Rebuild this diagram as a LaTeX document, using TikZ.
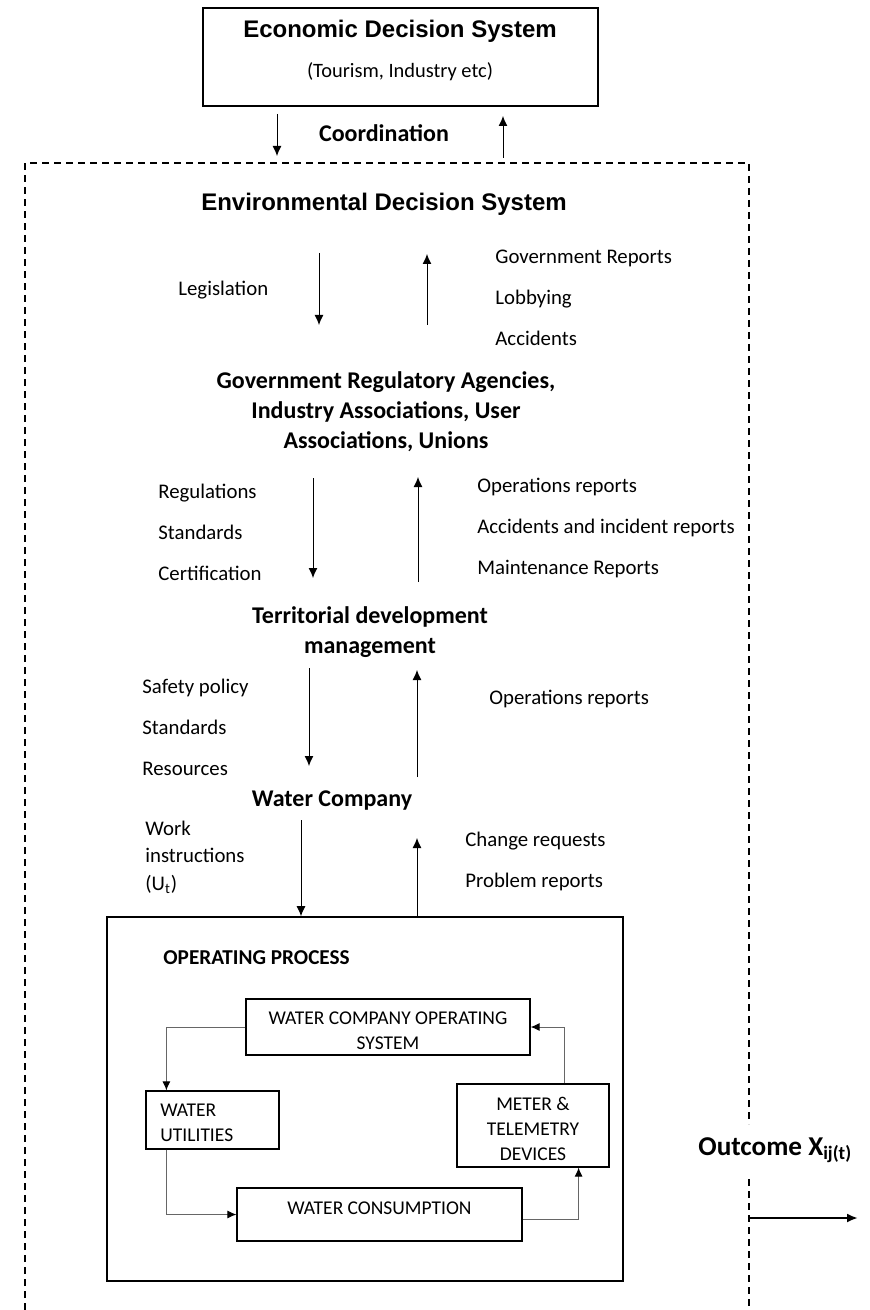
\documentclass[tikz,border=0pt]{standalone}
\usepackage{fontspec}
\setmainfont{Carlito}
\newfontfamily\arialfont{Liberation Sans}
\usepackage{tikz}
\usetikzlibrary{
	arrows.meta,
	positioning,
	calc
}
\tikzset{
  % arrow
	cstra/.style      ={-{Latex[length=5pt,width=4.5pt]}, line width=0.5pt},
	cstfra/.style     ={-{Latex[length=4.5pt,width=4pt,color=black]}, draw=black!60, line width=0.5pt},
	cstora/.style     ={-{Latex[length=5.5pt,width=4.5pt]}, line width=1.1pt},
  % line
	cstdash/.style    ={line width=0.6pt, dash pattern=on 3.5pt off 2.5pt},
  % node
	cstbox/.style     ={draw=black, line width=0.8pt, inner sep=0pt},
	cstinbox/.style   ={draw=black, line width=0.6pt, inner sep=0pt, font=\fontsize{9.75}{12.5}\selectfont, align=center},
	cstintext/.style  ={font=\fontsize{9.75}{12.5}\selectfont, align=center},
	csthead/.style    ={font=\arialfont\bfseries\fontsize{12}{14}\selectfont},
	cstlevel/.style   ={font=\bfseries\fontsize{12}{15}\selectfont, align=center},
	csttext/.style    ={font=\fontsize{10.2}{12}\selectfont, inner sep=0pt},
	cstlist/.style    ={font=\fontsize{10.4}{20.5}\selectfont, align=left, anchor=west, inner sep=0pt}
}

\begin{document}
\begin{tikzpicture}[x=0.5pt,y=-0.5pt]
	\useasboundingbox (0,0) rectangle (869,1310);
	% economic decision system
	\node[cstbox,minimum width=197.5pt,minimum height=49pt] (eco) at (400.5,57) {};
	\node[csthead] (ecot) at (400,31) {Economic Decision System};
	\node[csttext] (ecos) at (400,72) {(Tourism, Industry etc)};
	\node[cstlevel] (coord) at (384,133) {Coordination};
	\coordinate (cod0) at (277,114); \coordinate (cod1) at (277,156);
	\coordinate (cou0) at (503,158); \coordinate (cou1) at (503,116);
	\draw[cstra] (cod0) -- (cod1);
	\draw[cstra] (cou0) -- (cou1);
	% dashed frame
	\draw[cstdash] (25,1310) -- (25,163) -- (749,163) -- (749,1124);
	\draw[cstdash] (749,1179) -- (749,1310);
	% environmental decision system
	\node[csthead] (env) at (384,204) {Environmental Decision System};
	\node[cstlist] (legis) at (178,290) {Legislation};
	\node[cstlist] (lobby) at (495,298) {Government Reports\\Lobbying\\Accidents};
	\coordinate (end0) at (319,253); \coordinate (end1) at (319,325);
	\coordinate (enu0) at (427,325); \coordinate (enu1) at (427,254);
	\draw[cstra] (end0) -- (end1);
	\draw[cstra] (enu0) -- (enu1);
	% agencies
	\node[cstlevel] (gov) at (386,412) {Government Regulatory Agencies,\\Industry Associations, User\\Associations, Unions};
	\node[cstlist] (regul) at (158,532) {Regulations\\Standards\\Certification};
	\node[cstlist] (oprep) at (477,528) {Operations reports\\Accidents and incident reports\\Maintenance Reports};
	\coordinate (gvd0) at (313,478); \coordinate (gvd1) at (313,578);
	\coordinate (gvu0) at (418,582); \coordinate (gvu1) at (418,477);
	\draw[cstra] (gvd0) -- (gvd1);
	\draw[cstra] (gvu0) -- (gvu1);
	% territorial development
	\node[cstlevel] (terr) at (370,632) {Territorial development\\management};
	\node[cstlist] (safety) at (142,727) {Safety policy\\Standards\\Resources};
	\node[cstlist] (oprep2) at (489,699) {Operations reports};
	\coordinate (trd0) at (309,668); \coordinate (trd1) at (309,766);
	\coordinate (tru0) at (417,777); \coordinate (tru1) at (417,670);
	\draw[cstra] (trd0) -- (trd1);
	\draw[cstra] (tru0) -- (tru1);
	% water company
	\node[cstlevel] (wcomp) at (332,801) {Water Company};
	\node[cstlist,font=\fontsize{10.4}{13.75}\selectfont] (work) at (145,857) {Work\\instructions\\(U\textsubscript{t})};
	\node[cstlist] (change) at (465,861) {Change requests\\Problem reports};
	% operating process
	\node[cstbox,minimum width=258pt,minimum height=182pt] (opbox) at (365,1099) {};
	\node[anchor=west,inner sep=0pt,font=\bfseries\fontsize{10.6}{12}\selectfont] (optitle) at (163,958) {OPERATING PROCESS};
	\coordinate (wcd0) at (301,820); \coordinate (wcu1) at (417,838);
	\draw[cstra] (wcd0) -- (wcd0 |- opbox.north);
	\draw[cstra] (wcu1 |- opbox.north) -- (wcu1);
	\node[cstinbox,minimum width=142pt,minimum height=28pt,label={[cstintext,below=3pt]north:WATER COMPANY OPERATING\\SYSTEM}] (wcos) at (388,1027) {};
	\node[cstinbox,minimum width=66.5pt,minimum height=29pt,label={[cstintext,align=left,anchor=west,yshift=-1.5pt]west:\hspace*{4pt}WATER\\\hspace*{4pt}UTILITIES}] (util) at (212.5,1120) {};
	\node[cstinbox,minimum width=76pt,minimum height=41.5pt,label={[cstintext,yshift=-1.75pt]center:METER \&\\TELEMETRY\\DEVICES}] (meter) at (533,1125.5) {};
	\node[cstinbox,minimum width=142.5pt,minimum height=26.5pt,label={[cstintext,below=3.5pt]north:WATER CONSUMPTION}] (cons) at (379.5,1214.5) {};
	\draw[cstfra] (wcos.west) -| ([xshift=10.5pt]util.north west);
	\draw[cstfra] ([xshift=10.5pt]util.south west) |- (cons.west);
	\draw[cstfra] ([yshift=-2.25pt]cons.east) -| ([xshift=-15.5pt]meter.south east);
	\draw[cstfra] ([xshift=-22.5pt]meter.north east) |- (wcos.east);
	% outcome
	\node[anchor=west,inner sep=0pt,font=\bfseries\fontsize{13.6}{15}\selectfont] (outc) at (698,1150) {Outcome X\textsubscript{\fontsize{9.5}{10}\selectfont ij(t)}};
	\coordinate (out0) at (749,1218); \coordinate (out1) at (858,1218);
	\draw[cstora] (out0) -- (out1);
\end{tikzpicture}
\end{document}
